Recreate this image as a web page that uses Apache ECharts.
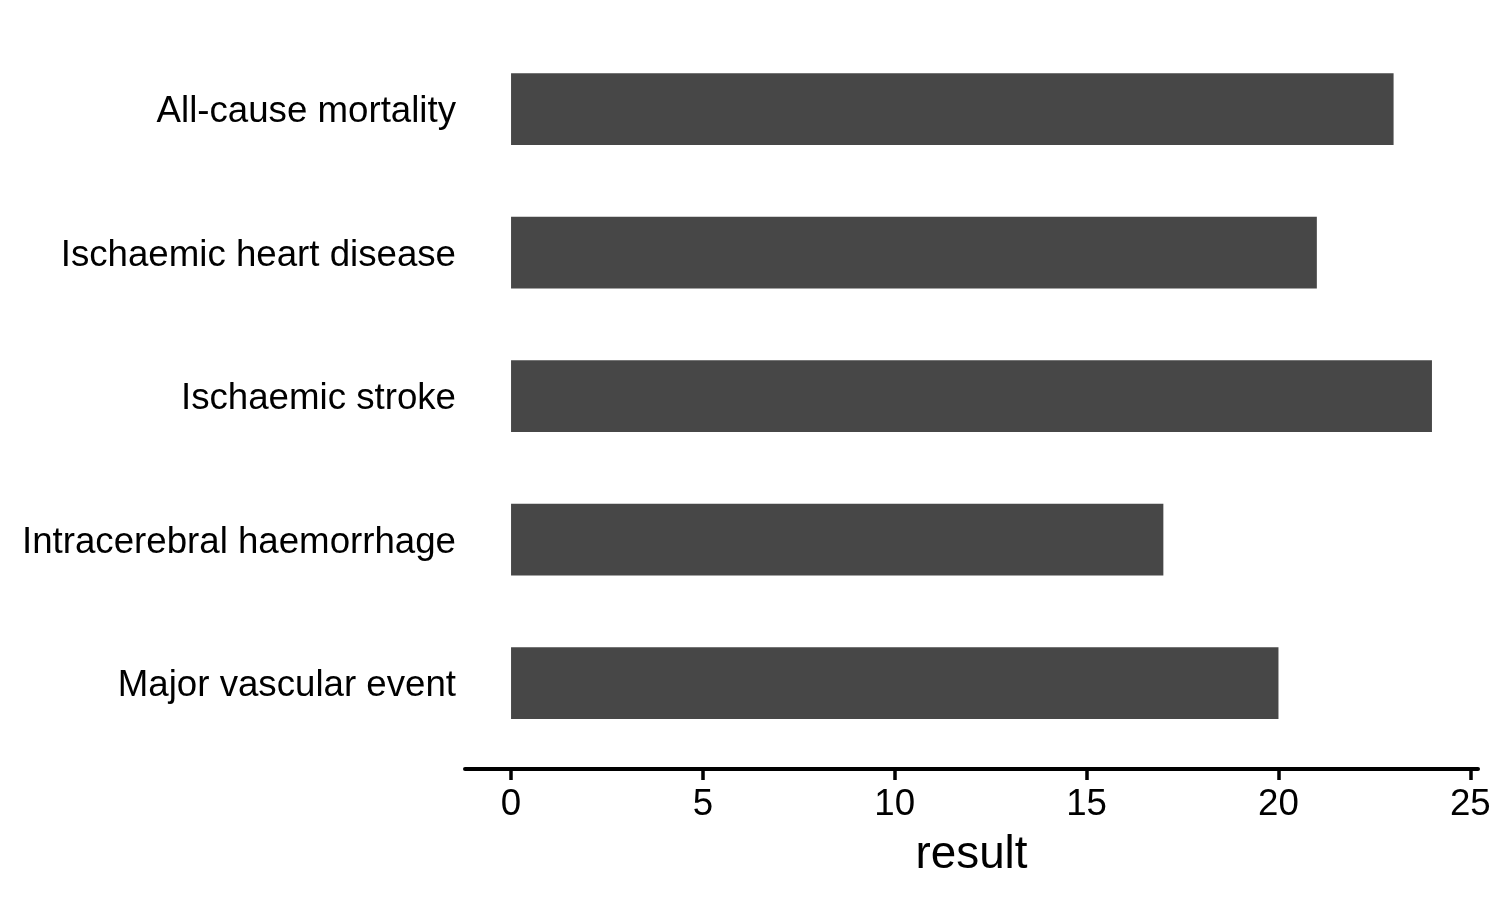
<!DOCTYPE html>
<html>
<head>
<meta charset="utf-8">
<script src="https://cdn.jsdelivr.net/npm/echarts@6/dist/echarts.min.js"></script>
<style>
html,body{margin:0;padding:0;background:#fff;}
#chart{width:1500px;height:900px;}
</style>
</head>
<body>
<div id="chart"></div>
<script>
const categories = ["All-cause mortality", "Ischaemic heart disease", "Ischaemic stroke", "Intracerebral haemorrhage", "Major vascular event"];
const values = [23, 21, 24, 17, 20];
const xTicks = [0, 5, 10, 15, 20, 25];
const xTitle = "result";

const chart = echarts.init(document.getElementById('chart'), null, {renderer: 'canvas'});
const font = '"Liberation Sans", Arial, Helvetica, sans-serif';
chart.setOption({
  backgroundColor: '#ffffff',
  animation: false,
  grid: {left: 465, right: 22, top: 37.25, bottom: 145.25, containLabel: false},
  xAxis: {
    type: 'value',
    min: -1.2,
    max: 25.2,
    offset: 14.35,
    splitLine: {show: false},
    axisLine: {show: true, lineStyle: {color: '#000', width: 4}},
    axisTick: {show: true, length: 11, lineStyle: {color: '#000', width: 3.5}, customValues: xTicks},
    axisLabel: {show: true, margin: 17, color: '#000', fontSize: 36.67, fontFamily: font, customValues: xTicks},
    name: xTitle,
    nameLocation: 'middle',
    nameGap: 63,
    nameTextStyle: {color: '#000', fontSize: 45.8, fontFamily: font}
  },
  yAxis: {
    type: 'category',
    data: categories,
    inverse: true,
    axisLine: {show: false},
    axisTick: {show: false},
    splitLine: {show: false},
    axisLabel: {
      show: true, margin: 9, color: '#000', fontSize: 36.67, fontFamily: font,
      formatter: function (v) { return '{a|' + v + '}'; },
      rich: {a: {color: '#000', fontSize: 36.67, fontFamily: font, padding: [6, 0, 0, 0]}}
    }
  },
  series: [{
    type: 'bar',
    data: values,
    barWidth: '50%',
    itemStyle: {color: '#474747'}
  }]
});
</script>
</body>
</html>
